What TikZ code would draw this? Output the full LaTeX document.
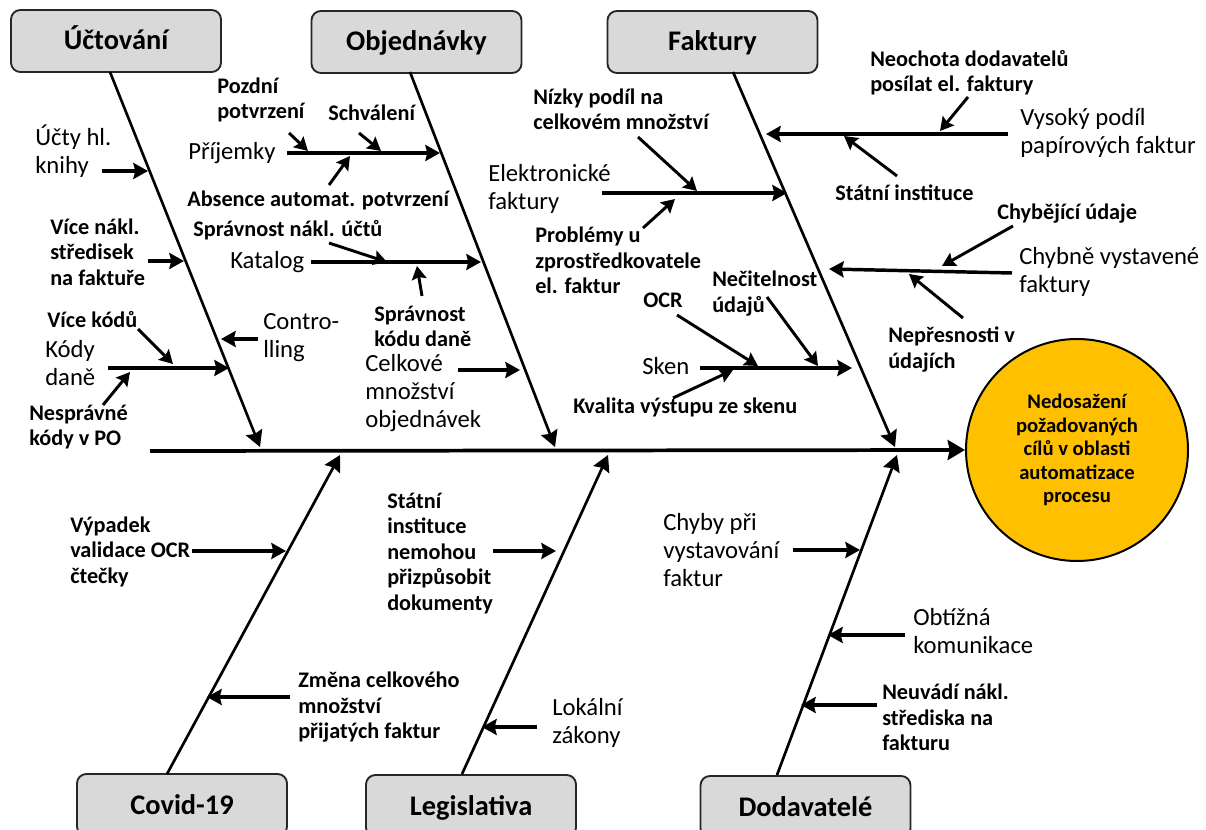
\documentclass[tikz,border=0pt]{standalone}
\usepackage{fontspec}
\setmainfont{Carlito}
\usetikzlibrary{arrows.meta}
\definecolor{boxgray}{HTML}{D9D9D9}
\definecolor{goalorange}{HTML}{FFC000}
\begin{document}
\begin{tikzpicture}[x=0.75pt,y=-0.75pt,
  catbox/.style={draw=black!85, line width=1.4pt, fill=boxgray, rounded corners=7pt,
    minimum width=157.5pt, minimum height=46.5pt, inner sep=0pt,
    text height=15.5pt, text depth=2pt,
    font=\fontsize{21.3}{25}\selectfont\bfseries},
  lblS/.style={font=\fontsize{16.7}{19.1}\selectfont\bfseries, align=left, inner sep=0pt, anchor=west},
  lblL/.style={font=\fontsize{18.5}{21}\selectfont, align=left, inner sep=0pt, anchor=west},
  bone/.style={line width=2pt, -{Stealth[length=12pt,width=13pt,inset=1.5pt]}},
  spine/.style={line width=2.8pt, -{Stealth[length=13pt,width=15pt,inset=1.5pt]}},
  arr/.style={line width=2.6pt, -{Stealth[length=11pt,width=12pt,inset=1.5pt]}},
  arrs/.style={line width=2.2pt, -{Stealth[length=10pt,width=11pt,inset=1.5pt]}}
]
\useasboundingbox (0,0) rectangle (1206,830);

% category boxes
\node[catbox] (uct) at (116,41) {Účtování};
\node[catbox] (obj) at (416.5,42) {Objednávky};
\node[catbox] (fak) at (712.5,42) {Faktury};
\node[catbox] (cov) at (182,805) {Covid-19};
\node[catbox] (leg) at (471,806) {Legislativa};
\node[catbox] (dod) at (805.5,807) {Dodavatelé};

% goal
\node[circle, draw=black, line width=1.5pt, fill=goalorange, minimum size=166.5pt, inner sep=0pt,
  align=center, font=\fontsize{15.5}{17.6}\selectfont\bfseries] (goal) at (1077,450)
  {Nedosažení\\požadovaných\\cílů v oblasti\\automatizace\\procesu};

% spine
\coordinate (spL) at (150,451);
\draw[spine] (spL) -- (goal.west);

% main bones
\coordinate (b1s) at (110,72);  \coordinate (b1e) at (260,447);
\coordinate (b2s) at (410,72);  \coordinate (b2e) at (555,447);
\coordinate (b3s) at (733,72);  \coordinate (b3e) at (895,447);
\coordinate (b4s) at (167,774); \coordinate (b4e) at (340,455);
\coordinate (b5s) at (462,774); \coordinate (b5e) at (608,455);
\coordinate (b6s) at (777,775); \coordinate (b6e) at (897,455);
\draw[bone] (b1s) -- (b1e);
\draw[bone] (b2s) -- (b2e);
\draw[bone] (b3s) -- (b3e);
\draw[bone] (b4s) -- (b4e);
\draw[bone] (b5s) -- (b5e);
\draw[bone] (b6s) -- (b6e);

% ---------- labels ----------
\node[lblL] (tUcty) at (35,151.5) {Účty hl.\\knihy};
\node[lblL] (tPrij) at (188,153) {Příjemky};
\node[lblL] (tKat) at (230,262) {Katalog};
\node[lblL] (tKody) at (45,363.5) {Kódy\\daně};
\node[lblL] (tContr) at (263,337.5) {Contro-\\lling};
\node[lblL] (tCelk) at (365,393.5) {Celkové\\množství\\objednávek};
\node[lblL] (tElek) at (488,188.5) {Elektronické\\faktury};
\node[lblL] (tSken) at (642,366) {Sken};
\node[lblL] (tVys) at (1020,132.5) {Vysoký podíl\\papírových faktur};
\node[lblL] (tChybne) at (1019,272) {Chybně vystavené\\faktury};
\node[lblL] (tChyby) at (663,550) {Chyby při\\vystavování\\faktur};
\node[lblL] (tObt) at (913,631) {Obtížná\\komunikace};
\node[lblL] (tLok) at (552,722.5) {Lokální\\zákony};

\node[lblS] (tPozd) at (217,100) {Pozdní\\potvrzení};
\node[lblS] (tSchv) at (328,113) {Schválení};
\node[lblS] (tAbs) at (187,200) {Absence automat. potvrzení};
\node[lblS] (tSprN) at (193,230) {Správnost nákl. účtů};
\node[lblS] (tSprK) at (374,326.5) {Správnost\\kódu daně};
\node[lblS] (tVice) at (50,252) {Více nákl.\\středisek\\na faktuře};
\node[lblS] (tViceK) at (47,320) {Více kódů};
\node[lblS] (tNespr) at (29,427) {Nesprávné\\kódy v PO};
\node[lblS] (tNiz) at (533,109.5) {Nízky podíl na\\celkovém množství};
\node[lblS] (tProb) at (535,260.5) {Problémy u\\zprostředkovatele\\el. faktur};
\node[lblS] (tNeoch) at (870,72.5) {Neochota dodavatelů\\posílat el. faktury};
\node[lblS] (tStatI) at (835,193) {Státní instituce};
\node[lblS] (tChybej) at (997,214) {Chybějící údaje};
\node[lblS] (tNepr) at (888,349.5) {Nepřesnosti v\\údajích};
\node[lblS] (tOCR) at (643,300) {OCR};
\node[lblS] (tNecit) at (712,293.5) {Nečitelnost\\údajů};
\node[lblS] (tKval) at (573,407) {Kvalita výstupu ze skenu};
\node[lblS] (tVyp) at (70,551.5) {Výpadek\\validace OCR\\čtečky};
\node[lblS] (tZmena) at (298,707.5) {Změna celkového\\množství\\přijatých faktur};
\node[lblS] (tStatN) at (387,553.5) {Státní\\instituce\\nemohou\\přizpůsobit\\dokumenty};
\node[lblS] (tNeuv) at (882,717.5) {Neuvádí nákl.\\střediska na\\fakturu};

% ---------- arrows ----------
% Účtování
\coordinate (a1s) at (102,171); \coordinate (a1e) at (148,171);
\coordinate (a2s) at (148,261); \coordinate (a2e) at (184,261);
\coordinate (a3s) at (258,339); \coordinate (a3e) at (221,339);
\coordinate (a4s) at (108,368); \coordinate (a4e) at (229,368);
\coordinate (a5s) at (138,329); \coordinate (a5e) at (173,364);
\coordinate (a6s) at (103,405); \coordinate (a6e) at (130,372);
\draw[arr] (a1s) -- (a1e);
\draw[arr] (a2s) -- (a2e);
\draw[arr] (a3s) -- (a3e);
\draw[arr] (a4s) -- (a4e);
\draw[arrs] (a5s) -- (a5e);
\draw[arrs] (a6s) -- (a6e);
% Objednávky
\coordinate (o1s) at (287,153); \coordinate (o1e) at (440,153);
\coordinate (o2s) at (289,133); \coordinate (o2e) at (308,151);
\coordinate (o3s) at (359,133); \coordinate (o3e) at (381,151);
\coordinate (o4s) at (329,185); \coordinate (o4e) at (350,156);
\coordinate (o5s) at (311,262); \coordinate (o5e) at (481,262);
\coordinate (o6s) at (329,243); \coordinate (o6e) at (387,262);
\coordinate (o7s) at (422,296); \coordinate (o7e) at (417,266);
\coordinate (o8s) at (458,370); \coordinate (o8e) at (520,370);
\draw[arr] (o1s) -- (o1e);
\draw[arrs] (o2s) -- (o2e);
\draw[arrs] (o3s) -- (o3e);
\draw[arrs] (o4s) -- (o4e);
\draw[arr] (o5s) -- (o5e);
\draw[arrs] (o6s) -- (o6e);
\draw[arrs] (o7s) -- (o7e);
\draw[arr] (o8s) -- (o8e);
% Faktury
\coordinate (f1s) at (602,193); \coordinate (f1e) at (787,193);
\coordinate (f2s) at (638,137); \coordinate (f2e) at (697,191);
\coordinate (f3s) at (643,228); \coordinate (f3e) at (675,199);
\coordinate (f4s) at (1008,134); \coordinate (f4e) at (766,134);
\coordinate (f5s) at (968,97); \coordinate (f5e) at (940,131);
\coordinate (f6s) at (897,176); \coordinate (f6e) at (844,136);
\coordinate (f7s) at (1012,273); \coordinate (f7e) at (829,269);
\coordinate (f8s) at (1013,226); \coordinate (f8e) at (942,266);
\coordinate (f9s) at (963,318); \coordinate (f9e) at (909,274);
\coordinate (f10s) at (700,368); \coordinate (f10e) at (852,368);
\coordinate (f11s) at (677,315); \coordinate (f11e) at (758,366);
\coordinate (f12s) at (767,297); \coordinate (f12e) at (818,366);
\coordinate (f13s) at (673,398); \coordinate (f13e) at (733,370);
\draw[arr] (f1s) -- (f1e);
\draw[arrs] (f2s) -- (f2e);
\draw[arrs] (f3s) -- (f3e);
\draw[arr] (f4s) -- (f4e);
\draw[arrs] (f5s) -- (f5e);
\draw[arrs] (f6s) -- (f6e);
\draw[arr] (f7s) -- (f7e);
\draw[arrs] (f8s) -- (f8e);
\draw[arrs] (f9s) -- (f9e);
\draw[arr] (f10s) -- (f10e);
\draw[arrs] (f11s) -- (f11e);
\draw[arrs] (f12s) -- (f12e);
\draw[arrs] (f13s) -- (f13e);
% Covid-19
\coordinate (c1s) at (192,551); \coordinate (c1e) at (286,551);
\coordinate (c2s) at (290,697); \coordinate (c2e) at (207,697);
\draw[arr] (c1s) -- (c1e);
\draw[arr] (c2s) -- (c2e);
% Legislativa
\coordinate (l1s) at (493,551); \coordinate (l1e) at (556,551);
\coordinate (l2s) at (537,727); \coordinate (l2e) at (482,727);
\draw[arr] (l1s) -- (l1e);
\draw[arr] (l2s) -- (l2e);
% Dodavatelé
\coordinate (d1s) at (793,550); \coordinate (d1e) at (860,550);
\coordinate (d2s) at (905,635); \coordinate (d2e) at (828,635);
\coordinate (d3s) at (877,705); \coordinate (d3e) at (801,705);
\draw[arr] (d1s) -- (d1e);
\draw[arr] (d2s) -- (d2e);
\draw[arr] (d3s) -- (d3e);
\end{tikzpicture}
\end{document}
